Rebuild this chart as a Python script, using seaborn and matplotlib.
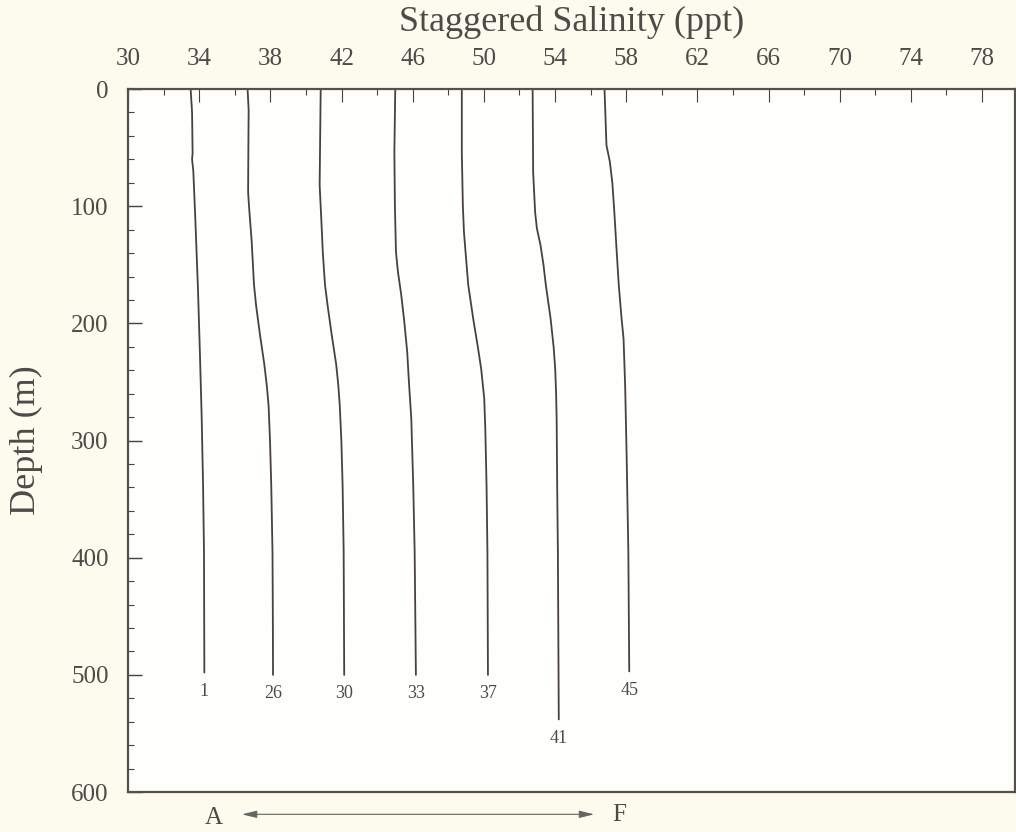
import pandas as pd
import matplotlib.pyplot as plt
import seaborn as sns
from matplotlib.ticker import MultipleLocator

# station profiles, salinity already staggered along the section A -> F
stations = ["1", "26", "30", "33", "37", "41", "45"]

depth_1 = [0, 20, 55, 60, 70, 110, 170, 225, 280, 340, 395, 498]
sal_1 = [33.52, 33.60, 33.63, 33.60, 33.67, 33.78, 33.93, 34.04, 34.14, 34.22, 34.27, 34.29]

depth_26 = [0, 18, 60, 88, 100, 130, 167, 185, 210, 235, 253, 270, 300, 338, 395, 450, 500]
sal_26 = [36.72, 36.78, 36.76, 36.75, 36.80, 36.95, 37.08, 37.20, 37.42, 37.66, 37.80,
          37.90, 37.98, 38.05, 38.12, 38.14, 38.15]

depth_30 = [0, 40, 82, 110, 140, 167, 185, 210, 235, 253, 270, 300, 338, 395, 500]
sal_30 = [40.83, 40.80, 40.77, 40.86, 40.95, 41.07, 41.22, 41.45, 41.70, 41.82, 41.90,
          41.99, 42.06, 42.12, 42.15]

depth_33 = [0, 54, 100, 139, 156, 175, 196, 224, 253, 281, 338, 395, 500]
sal_33 = [45.02, 44.97, 45.00, 45.06, 45.17, 45.35, 45.51, 45.69, 45.80, 45.92, 46.03,
          46.11, 46.18]

depth_37 = [0, 54, 100, 122, 139, 167, 196, 220, 239, 264, 290, 338, 395, 500]
sal_37 = [48.76, 48.76, 48.82, 48.88, 48.97, 49.12, 49.40, 49.66, 49.85, 50.02, 50.08,
          50.15, 50.20, 50.23]

depth_41 = [0, 71, 105, 119, 133, 150, 167, 196, 220, 239, 260, 281, 338, 395, 538]
sal_41 = [52.74, 52.77, 52.88, 52.98, 53.18, 53.35, 53.48, 53.75, 53.92, 54.01, 54.06,
          54.09, 54.12, 54.16, 54.21]

depth_45 = [0, 48, 62, 80, 102, 140, 167, 196, 213, 253, 310, 395, 497]
sal_45 = [56.78, 56.89, 57.08, 57.22, 57.32, 57.47, 57.58, 57.74, 57.85, 57.94, 58.02,
          58.12, 58.17]

depths = [depth_1, depth_26, depth_30, depth_33, depth_37, depth_41, depth_45]
sals = [sal_1, sal_26, sal_30, sal_33, sal_37, sal_41, sal_45]

rows = []
for st, dd, ss in zip(stations, depths, sals):
    for d, s in zip(dd, ss):
        rows.append({"station": st, "depth": d, "salinity": s})
df = pd.DataFrame(rows)

sns.set_style("ticks")
plt.rcParams["font.family"] = ["Liberation Serif", "DejaVu Serif"]

ink = "#4a4040"
txt = "#4d4a48"

fig = plt.figure(figsize=(10.16, 8.32), dpi=100, facecolor="#fcfbee")
ax = fig.add_axes([0.126, 0.048, 0.873, 0.845])
ax.set_facecolor("#fefefa")

sns.lineplot(data=df, x="salinity", y="depth", units="station", estimator=None,
             orient="y", sort=True, color=ink, linewidth=1.3, ax=ax)

# station numbers under each profile
for st, dd, ss in zip(stations, depths, sals):
    ax.text(ss[-1], dd[-1] + 16, st, ha="center", va="center", fontsize=13, color=txt)

ax.set_xlim(30, 79.85)
ax.set_ylim(600, 0)
ax.xaxis.tick_top()
ax.xaxis.set_label_position("top")
ax.set_xticks(list(range(30, 80, 4)))
ax.xaxis.set_minor_locator(MultipleLocator(2))
ax.yaxis.set_major_locator(MultipleLocator(100))
ax.yaxis.set_minor_locator(MultipleLocator(20))
ax.tick_params(axis="x", which="major", direction="in", length=9, width=0.8,
               pad=14, labelsize=18, colors=ink, labelcolor=txt)
ax.tick_params(axis="x", which="minor", direction="in", length=4, width=0.8, colors=ink)
ax.tick_params(axis="y", which="major", direction="in", length=10, width=1.0,
               pad=14, labelsize=18, colors=ink, labelcolor=txt)
ax.tick_params(axis="y", which="minor", direction="in", length=4, width=0.8, colors=ink)

ax.set_xlabel("Staggered Salinity (ppt)", fontsize=26, color=txt, labelpad=12)
ax.set_ylabel("Depth (m)", fontsize=26, color=txt, labelpad=20)

for sp in ax.spines.values():
    sp.set_color("#55504c")
    sp.set_linewidth(1.6)

# section direction A -> F below the frame
ax.annotate("", xy=(56.2, 619), xytext=(36.4, 619), annotation_clip=False,
            arrowprops=dict(arrowstyle="<|-|>,head_length=0.9,head_width=0.22",
                            color="#6a6460", lw=0.8, shrinkA=0, shrinkB=0))
ax.text(34.8, 622, "A", ha="center", va="center", fontsize=18, color=txt, clip_on=False)
ax.text(57.6, 620, "F", ha="center", va="center", fontsize=18, color=txt, clip_on=False)

fig.savefig("out.png", dpi=100, facecolor=fig.get_facecolor())
